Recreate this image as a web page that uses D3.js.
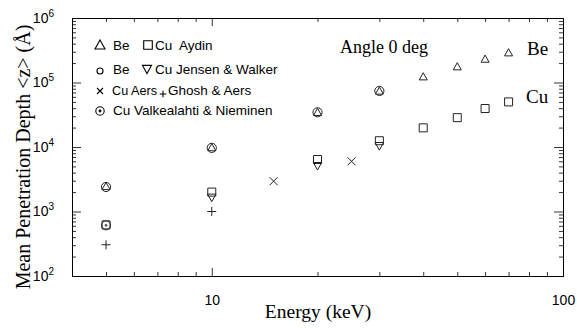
<!DOCTYPE html>
<html>
<head>
<meta charset="utf-8">
<script src="https://cdn.jsdelivr.net/npm/d3@7"></script>
<style>
  body { margin: 0; background: #fff; }
  svg { display: block; }
</style>
</head>
<body>
<script>
// data (energy in keV, depth in Angstrom)
const beAydinE = [5, 10, 20, 30, 40, 50, 60, 70];
const beAydinZ = [2450, 9800, 34500, 74000, 123000, 176000, 231000, 290000];

const cuAydinE = [5, 10, 20, 30, 40, 50, 60, 70];
const cuAydinZ = [620, 2000, 6400, 12500, 19800, 28500, 39500, 50000];

const beJensenE = [5, 10, 20, 30];
const beJensenZ = [2400, 9700, 34500, 74000];

const cuJensenE = [10, 20, 30];
const cuJensenZ = [1650, 5100, 10400];

const cuAersE = [15, 25];
const cuAersZ = [2950, 6000];

const ghoshE = [5, 10];
const ghoshZ = [305, 1000];

const cuValkE = [5];
const cuValkZ = [610];

const xMajor = [10, 100];
const yMajor = [1e2, 1e3, 1e4, 1e5, 1e6];

const W = 577, H = 328;
const m = {left: 72, right: 563, top: 18, bottom: 276};

const svg = d3.select("body").append("svg")
    .attr("width", W)
    .attr("height", H);

const x = d3.scaleLog().domain([4, 100]).range([m.left, m.right]);
const y = d3.scaleLog().domain([1e2, 1e6]).range([m.bottom, m.top]);

// minor ticks 2..9 of each decade
function minorTicks(lo, hi) {
    let out = [];
    for (let d = lo; d < hi; d *= 10) {
        for (let k = 2; k < 10; k++) out.push(d * k);
    }
    return out;
}
const xMinor = minorTicks(1, 100).filter(v => v > 4 && v < 100);
const yMinor = minorTicks(100, 1e6);

const sans = "Liberation Sans, Arial, sans-serif";
const serif = "Liberation Serif, Times New Roman, serif";

function styleAxis(g) {
    g.select(".domain").attr("stroke", "#000").attr("stroke-width", 1);
    g.selectAll(".tick line").attr("stroke", "#000").attr("stroke-width", 0.8);
}

// bottom
svg.append("g").attr("transform", `translate(0,${m.bottom})`)
    .call(d3.axisBottom(x).tickValues(xMinor).tickSize(-4).tickSizeOuter(0).tickFormat(""))
    .call(styleAxis);
svg.append("g").attr("transform", `translate(0,${m.bottom})`)
    .call(d3.axisBottom(x).tickValues(xMajor).tickSize(-8).tickSizeOuter(0).tickPadding(19)
        .tickFormat(d3.format("d")))
    .call(styleAxis)
    .call(g => g.selectAll("text").attr("font-family", sans)
        .attr("font-size", 14).attr("fill", "#000"));

// top
svg.append("g").attr("transform", `translate(0,${m.top})`)
    .call(d3.axisTop(x).tickValues(xMinor).tickSize(-4).tickSizeOuter(0).tickFormat(""))
    .call(styleAxis);
svg.append("g").attr("transform", `translate(0,${m.top})`)
    .call(d3.axisTop(x).tickValues([10]).tickSize(-8).tickSizeOuter(0).tickFormat(""))
    .call(styleAxis);

// left
svg.append("g").attr("transform", `translate(${m.left},0)`)
    .call(d3.axisLeft(y).tickValues(yMinor).tickSize(-4).tickSizeOuter(0).tickFormat(""))
    .call(styleAxis);
svg.append("g").attr("transform", `translate(${m.left},0)`)
    .call(d3.axisLeft(y).tickValues(yMajor).tickSize(-9).tickSizeOuter(0).tickPadding(12)
        .tickFormat(""))
    .call(styleAxis)
    .call(g => g.selectAll(".tick text").each(function (d) {
        const t = d3.select(this)
            .attr("font-family", sans)
            .attr("font-size", 14).attr("fill", "#000")
            .attr("dx", -6);
        t.append("tspan").text("10");
        t.append("tspan").attr("font-size", 10).attr("dy", "-0.6em")
            .text(Math.round(Math.log10(d)));
    }));

// right
svg.append("g").attr("transform", `translate(${m.right},0)`)
    .call(d3.axisRight(y).tickValues(yMinor).tickSize(-4).tickSizeOuter(0).tickFormat(""))
    .call(styleAxis);
svg.append("g").attr("transform", `translate(${m.right},0)`)
    .call(d3.axisRight(y).tickValues(yMajor).tickSize(-9).tickSizeOuter(0).tickFormat(""))
    .call(styleAxis);

// marker shapes
const shapes = {
    triUp: r => { const p = d3.path(); p.moveTo(0, -r); p.lineTo(r, r * 0.8); p.lineTo(-r, r * 0.8); p.closePath(); return p.toString(); },
    triDown: r => { const p = d3.path(); p.moveTo(0, r); p.lineTo(r, -r * 0.8); p.lineTo(-r, -r * 0.8); p.closePath(); return p.toString(); },
    square: r => { const p = d3.path(); p.rect(-r, -r, 2 * r, 2 * r); return p.toString(); },
    circle: r => { const p = d3.path(); p.arc(0, 0, r, 0, 2 * Math.PI); p.closePath(); return p.toString(); },
    circleDot: r => { const p = d3.path(); p.arc(0, 0, r, 0, 2 * Math.PI); p.closePath(); p.moveTo(0.9, 0); p.arc(0, 0, 0.9, 0, 2 * Math.PI); return p.toString(); },
    times: r => { const p = d3.path(); p.moveTo(-r, -r); p.lineTo(r, r); p.moveTo(r, -r); p.lineTo(-r, r); return p.toString(); },
    plus: r => { const p = d3.path(); p.moveTo(-r, 0); p.lineTo(r, 0); p.moveTo(0, -r); p.lineTo(0, r); return p.toString(); }
};

const series = [
    {e: cuAydinE, z: cuAydinZ, shape: "square", r: 4},
    {e: cuValkE, z: cuValkZ, shape: "circleDot", r: 4.5},
    {e: cuJensenE, z: cuJensenZ, shape: "triDown", r: 4.2},
    {e: beAydinE, z: beAydinZ, shape: "triUp", r: 4},
    {e: beJensenE, z: beJensenZ, shape: "circle", r: 4.6},
    {e: cuAersE, z: cuAersZ, shape: "times", r: 4},
    {e: ghoshE, z: ghoshZ, shape: "plus", r: 4.5}
];

series.forEach(s => {
    svg.append("g").selectAll("path")
        .data(s.e.map((e, i) => ({e: e, z: s.z[i]})))
        .enter()
        .append("path")
        .attr("transform", d => `translate(${x(d.e)},${y(d.z)})`)
        .attr("d", shapes[s.shape](s.r))
        .attr("fill", "none")
        .attr("stroke", "#222")
        .attr("stroke-width", 1);
});

// legend
const legSymbols = [
    {x: 100, y: 45, shape: "triUp", r: 5},
    {x: 148, y: 45, shape: "square", r: 4.3},
    {x: 100, y: 71, shape: "circle", r: 3},
    {x: 147, y: 69, shape: "triDown", r: 4.5},
    {x: 100, y: 91, shape: "times", r: 3},
    {x: 163, y: 94, shape: "plus", r: 3.3},
    {x: 100, y: 111, shape: "circleDot", r: 4.2}
];
svg.append("g").selectAll("path")
    .data(legSymbols).enter().append("path")
    .attr("transform", d => `translate(${d.x},${d.y})`)
    .attr("d", d => shapes[d.shape](d.r))
    .attr("fill", "none")
    .attr("stroke", "#000")
    .attr("stroke-width", 1.1);

const legTexts = [
    {x: 113, y: 50, t: "Be"},
    {x: 155, y: 50, t: "Cu  Aydin"},
    {x: 113, y: 74, t: "Be"},
    {x: 155, y: 74, t: "Cu Jensen & Walker"},
    {x: 112, y: 95, t: "Cu Aers", w: 45},
    {x: 168, y: 95, t: "Ghosh & Aers"},
    {x: 113, y: 115, t: "Cu Valkealahti & Nieminen"}
];
svg.append("g").selectAll("text")
    .data(legTexts).enter().append("text")
    .attr("x", d => d.x).attr("y", d => d.y)
    .attr("font-family", sans).attr("font-size", 13.5)
    .attr("xml:space", "preserve")
    .style("white-space", "pre")
    .each(function (d) { if (d.w) d3.select(this).attr("textLength", d.w).attr("lengthAdjust", "spacingAndGlyphs"); })
    .text(d => d.t);

svg.append("text").attr("x", 340).attr("y", 53)
    .attr("font-family", serif).attr("font-size", 18).text("Angle 0 deg");
svg.append("text").attr("x", 527).attr("y", 55)
    .attr("font-family", serif).attr("font-size", 19).text("Be");
svg.append("text").attr("x", 526).attr("y", 103)
    .attr("font-family", serif).attr("font-size", 19).text("Cu");

// axis titles
svg.append("text").attr("x", 318).attr("y", 318)
    .attr("text-anchor", "middle")
    .attr("font-family", serif).attr("font-size", 19.5)
    .text("Energy (keV)");
svg.append("text")
    .attr("transform", "translate(30,157) rotate(-90)")
    .attr("text-anchor", "middle")
    .attr("font-family", serif).attr("font-size", 20)
    .text("Mean Penetration Depth <z> (Å)");
</script>
</body>
</html>
